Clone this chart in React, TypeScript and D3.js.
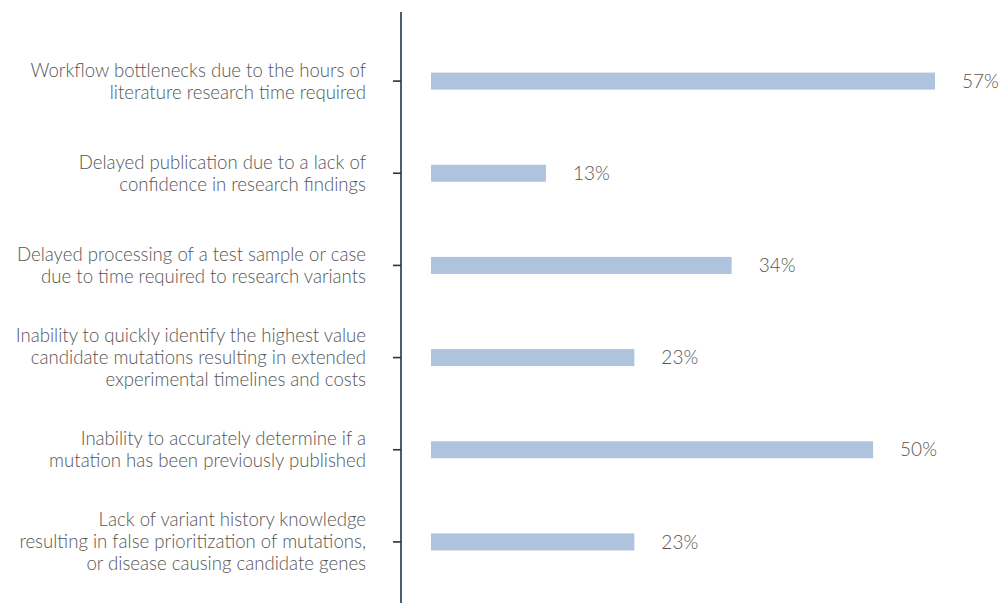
import React from "react";
import * as d3 from "d3";

const categories: string[][] = [
  ["Workflow bottlenecks due to the hours of", "literature research time required"],
  ["Delayed publication due to a lack of", "confidence in research findings"],
  ["Delayed processing of a test sample or case", "due to time required to research variants"],
  ["Inability to quickly identify the highest value", "candidate mutations resulting in extended", "experimental timelines and costs"],
  ["Inability to accurately determine if a", "mutation has been previously published"],
  ["Lack of variant history knowledge", "resulting in false prioritization of mutations,", "or disease causing candidate genes"],
];
const values: number[] = [57, 13, 34, 23, 50, 23];

const W = 1002;
const H = 603;
const axisX = 401;
const barX0 = 431;
const FONT = "Lato, 'Open Sans', sans-serif";

export default function App() {
  const ids = categories.map((_, i) => String(i));
  const y = d3.scaleBand<string>().domain(ids).range([35, 588]).paddingInner(0).paddingOuter(0);
  const x = d3.scaleLinear().domain([0, 57]).range([barX0, 935]);
  const barH = 17;
  const lineH = 22;
  return (
    <svg width={W} height={H} style={{ position: "absolute", left: 0, top: 0 }}>
      <line x1={axisX} x2={axisX} y1={12} y2={H} stroke="#1c3550" strokeWidth={1.6} />
      {categories.map((lines, i) => {
        const cy = (y(String(i)) as number) + y.bandwidth() / 2;
        const v = values[i];
        return (
          <g key={i}>
            <line x1={axisX - 8} x2={axisX} y1={cy} y2={cy} stroke="#1c3550" strokeWidth={1.6} />
            <rect x={x(0)} y={cy - barH / 2} width={x(v) - x(0)} height={barH} fill="#adc3de" />
            <text x={x(v) + 27} y={cy} dy="0.35em" fontFamily={FONT} fontWeight={300} fontSize={19} fill="#555">
              {v}%
            </text>
            <text textAnchor="end" fontFamily={FONT} fontWeight={300} fontSize={18.6} fill="#555">
              {lines.map((t, j) => (
                <tspan key={j} x={366} y={cy + (j - (lines.length - 1) / 2) * lineH} dy="0.35em">
                  {t}
                </tspan>
              ))}
            </text>
          </g>
        );
      })}
    </svg>
  );
}
